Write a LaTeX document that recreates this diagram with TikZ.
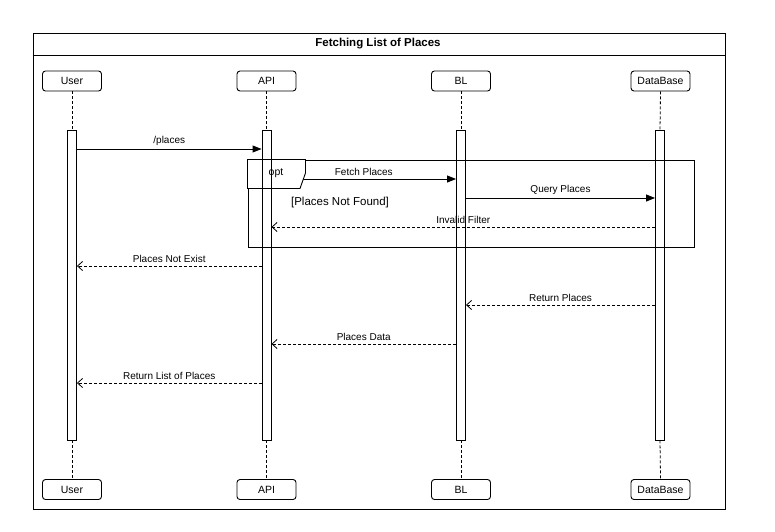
\documentclass[tikz,border=0pt]{standalone}
\usepackage{fontspec}
\setmainfont{Liberation Sans}
\usetikzlibrary{arrows.meta}
\begin{document}
\begin{tikzpicture}[x=1pt,y=-1pt,line width=0.9pt,
  part/.style={draw,rounded corners=3pt,minimum width=59pt,minimum height=20pt,inner sep=0pt,font=\fontsize{10.5}{12}\selectfont,fill=white},
  bar/.style={draw,fill=white,minimum width=9pt,minimum height=310pt,inner sep=0pt},
  life/.style={line width=0.8pt,dash pattern=on 3pt off 2pt},
  msg/.style={-{Triangle[length=9pt,width=7pt]}},
  ret/.style={line width=0.8pt,dash pattern=on 3pt off 2pt,-{Straight Barb[length=5pt,width=9pt]}},
  lbl/.style={font=\fontsize{10}{12}\selectfont,above=2pt,inner sep=1pt,midway}]
\useasboundingbox (0,0) rectangle (775,531);
% outer frame
\node[draw,minimum width=692pt,minimum height=476pt,inner sep=0pt,anchor=north west] (frame) at (32.5,32.5) {};
\coordinate (tb) at (0,55.5);
\draw (frame.west |- tb) -- (frame.east |- tb);
\node[font=\bfseries\fontsize{11.5}{13}\selectfont] (title) at (378,44) {Fetching List of Places};
% participants
\node[part] (uT) at (72,81) {User};
\node[part] (aT) at (266.5,81) {API};
\node[part] (bT) at (461,81) {BL};
\node[part] (dT) at (660.5,81) {DataBase};
\node[part] (uB) at (72,489.5) {User};
\node[part] (aB) at (266.5,489.5) {API};
\node[part] (bB) at (461,489.5) {BL};
\node[part] (dB) at (660.5,489.5) {DataBase};
% activation bars
\node[bar] (ub) at (72,285) {};
\node[bar] (ab) at (266.5,285) {};
\node[bar] (bb) at (461,285) {};
\node[bar] (db) at (660,285) {};
% lifelines
\foreach \t/\b/\e in {uT/ub/uB,aT/ab/aB,bT/bb/bB,dT/db/dB}{
  \draw[life] (\t.south) -- (\b.north);
  \draw[life] (\b.south) -- (\e.north);
}
% opt frame
\node[draw,minimum width=446pt,minimum height=87pt,inner sep=0pt,anchor=north west] (opt) at (247.5,159.5) {};
% message rows
\coordinate (y1) at (0,149);
\coordinate (y2) at (0,179);
\coordinate (y3) at (0,198);
\coordinate (y4) at (0,227);
\coordinate (y5) at (0,266);
\coordinate (y6) at (0,305);
\coordinate (y7) at (0,344);
\coordinate (y8) at (0,383);
\draw[msg] (ub.east |- y1) -- node[lbl] (l1) {/places} (ab.west |- y1);
\draw[msg] (ab.east |- y2) -- node[lbl] (l2) {Fetch Places} (bb.west |- y2);
\draw[msg] (bb.east |- y3) -- node[lbl] (l3) {Query Places} (db.west |- y3);
\draw[ret] (db.west |- y4) -- node[lbl] (l4) {Invalid Filter} (ab.east |- y4);
\draw[ret] (ab.west |- y5) -- node[lbl] (l5) {Places Not Exist} (ub.east |- y5);
\draw[ret] (db.west |- y6) -- node[lbl] (l6) {Return Places} (bb.east |- y6);
\draw[ret] (bb.west |- y7) -- node[lbl] (l7) {Places Data} (ab.east |- y7);
\draw[ret] (ab.west |- y8) -- node[lbl] (l8) {Return List of Places} (ub.east |- y8);
% opt tab
\coordinate (t1) at (305.5,159.5);
\coordinate (t2) at (305.5,173);
\coordinate (t3) at (300,188.5);
\coordinate (t4) at (247.5,188.5);
\draw[fill=white] (opt.north west) -- (t1) -- (t2) -- (t3) -- (t4) -- cycle;
\node[bar,fill=none] (ab2) at (ab.center) {};
\node[font=\fontsize{10.5}{12}\selectfont] (optl) at (276,173.5) {opt};
\node[font=\fontsize{11.5}{13}\selectfont] (guard) at (340,203) {[Places Not Found]};
\end{tikzpicture}
\end{document}
